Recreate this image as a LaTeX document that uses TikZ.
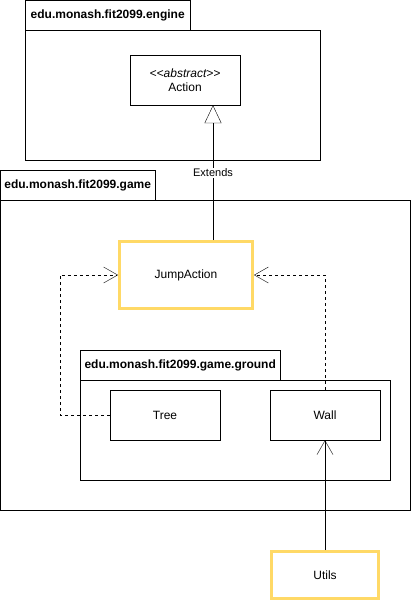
\documentclass[tikz,border=0pt]{standalone}
\usepackage{fontspec}
\setmainfont{Liberation Sans}
\usetikzlibrary{%
   arrows.meta,%
   positioning%
}
\definecolor{hilite}{HTML}{FFD966}

\begin{document}
\begin{tikzpicture}[x=1pt,y=-1pt,
	pkgtab/.style={
	rectangle,draw,anchor=north west,
	minimum height=30pt,inner sep=0pt,
	font=\bfseries\fontsize{12}{14}\selectfont
	},pkgbody/.style={
	rectangle,draw,anchor=north west,inner sep=0pt
	},classbox/.style={
	rectangle,draw,fill=white,
	minimum width=110pt,minimum height=50pt,inner sep=0pt,
	align=center,font=\fontsize{12}{14}\selectfont
	},focusbox/.style={
	classbox,draw=hilite,line width=3pt
	},extends/.style={
	-{Triangle[open,length=18pt,width=17pt]}
	},dep/.style={
	dash pattern=on 3pt off 3pt,-{Straight Barb[length=14pt,width=16pt]}
	},uses/.style={
	-{Straight Barb[length=14pt,width=16pt]}
	}
]
\useasboundingbox (0,0) rectangle (411,602);

% packages
\node (enginetab) [pkgtab,minimum width=165pt] at (25,0) {edu.monash.fit2099.engine};
\node (enginepkg) [pkgbody,minimum width=295pt,minimum height=130pt] at (25,30) {};
\node (gametab) [pkgtab,minimum width=155pt] at (0,170) {edu.monash.fit2099.game};
\node (gamepkg) [pkgbody,minimum width=410pt,minimum height=310pt] at (0,200) {};
\node (groundtab) [pkgtab,minimum width=200pt] at (80,350) {edu.monash.fit2099.game.ground};
\node (groundpkg) [pkgbody,minimum width=310pt,minimum height=100pt] at (80,380) {};

% classes
\node (action) [classbox] at (185,80) {\textit{<\kern0pt<abstract>\kern0pt>}\\Action};
\node (jump) [focusbox,minimum width=133pt,minimum height=67pt] at (186,275) {JumpAction};
\node (tree) [classbox] at (165,415) {Tree};
\node (wall) [classbox] at (325,415) {Wall};
\node (utils) [focusbox,minimum width=107pt,minimum height=47pt] at (325,575) {Utils};

\draw[extends] ([xshift=27pt]jump.north) -- ([xshift=28pt]action.south)
	node[pos=0.5,fill=white,inner sep=1pt,font=\fontsize{11}{13}\selectfont] (extlabel) {Extends};
\draw[dep] (tree.west) -- ++(-50,0) |- (jump.west);
\draw[dep] (wall.north) |- (jump.east);
\draw[uses] (utils.north) -- (wall.south);

\end{tikzpicture}
\end{document}
